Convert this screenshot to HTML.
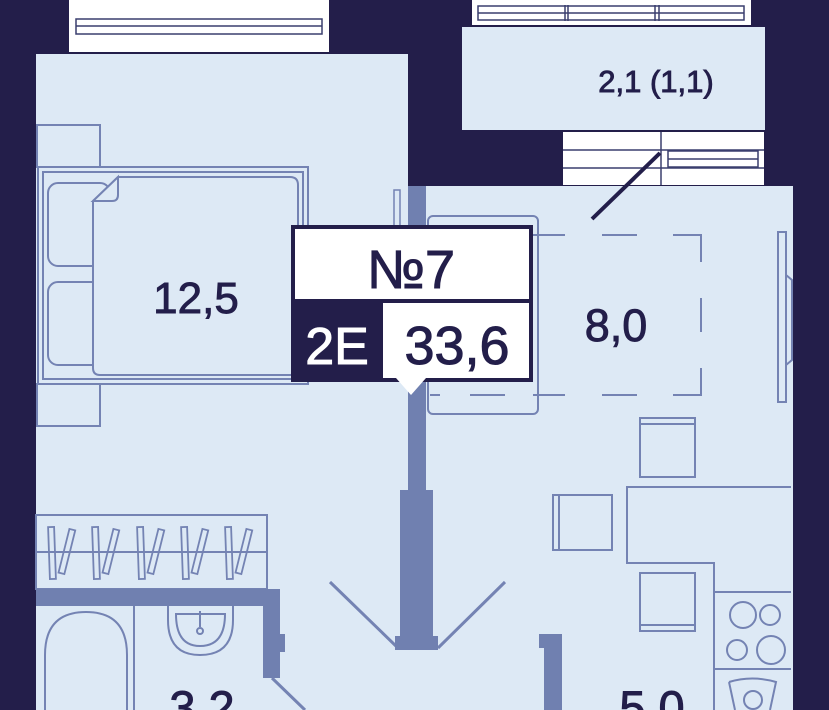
<!DOCTYPE html>
<html><head><meta charset="utf-8"><style>
html,body{margin:0;padding:0;background:#231e4a;}
svg{display:block}
text{font-family:"Liberation Sans",sans-serif;}
</style></head><body>
<svg width="829" height="710" viewBox="0 0 829 710" xmlns="http://www.w3.org/2000/svg">
<rect width="829" height="710" fill="#231e4a"/>
<rect x="36" y="54" width="372" height="656" fill="#dde9f5"/>
<rect x="400" y="186" width="393" height="524" fill="#dde9f5"/>
<rect x="462" y="27" width="303" height="103" fill="#dde9f5"/>
<g fill="#fff" stroke="#3a3f6e" stroke-width="1.5">
<rect x="69" y="0" width="260" height="52" stroke="none"/>
<rect x="76" y="19" width="246" height="15" fill="none"/>
<line x1="76" y1="26" x2="322" y2="26"/>
<rect x="472" y="0" width="279" height="25" stroke="none"/>
<rect x="478" y="6" width="266" height="14" fill="none"/>
<line x1="478" y1="13" x2="744" y2="13"/>
<line x1="565" y1="5" x2="565" y2="21"/><line x1="568" y1="5" x2="568" y2="21"/>
<line x1="655" y1="5" x2="655" y2="21"/><line x1="659" y1="5" x2="659" y2="21"/>
<rect x="563" y="132" width="201" height="53" stroke="none"/>
<line x1="563" y1="150" x2="764" y2="150"/><line x1="563" y1="168" x2="764" y2="168"/>
<line x1="661" y1="132" x2="661" y2="185"/>
<rect x="668" y="151" width="90" height="16" fill="none"/>
<line x1="668" y1="159" x2="758" y2="159"/>
</g>
<line x1="592" y1="219" x2="660" y2="153" stroke="#231e4a" stroke-width="4"/>
<g fill="none" stroke="#7483b3" stroke-width="2">
<rect x="37" y="125" width="63" height="42"/>
<rect x="37" y="384" width="63" height="42"/>
<rect x="38" y="167" width="270" height="217"/>
<rect x="43" y="172" width="260" height="207"/>
<rect x="48" y="183" width="62" height="83" rx="10"/>
<rect x="48" y="282" width="62" height="83" rx="10"/>
<path d="M93 201 L93 368 Q93 375 100 375 L290 375 Q298 375 298 368 L298 185 Q298 177 290 177 L118 177 Z" fill="#dde9f5"/>
<path d="M93 201 L118 177 L118 195 Q118 201 112 201 Z" fill="#dde9f5"/>
<rect x="428" y="216" width="110" height="198" rx="5"/>
<path d="M533 235H565 M602 235H637 M673 235H701V262 M701 298V332 M701 368V395H673 M637 395H602 M565 395H533 M505 395H470 M440 395H430 M505 235H470"/>
<rect x="778" y="232" width="8" height="170"/>
<path d="M786 275 L792 280 V360 L786 365"/>
<rect x="640" y="418" width="55" height="59"/><line x1="640" y1="424" x2="695" y2="424"/>
<rect x="553" y="495" width="59" height="55"/><line x1="559" y1="495" x2="559" y2="550"/>
<rect x="640" y="573" width="55" height="58"/><line x1="640" y1="625" x2="695" y2="625"/>
<path d="M791 487 H627 V563 H714 V710"/>
<line x1="714" y1="592" x2="791" y2="592"/><line x1="714" y1="669" x2="791" y2="669"/>
<circle cx="743" cy="615" r="13"/><circle cx="770" cy="615" r="10"/>
<circle cx="737" cy="650" r="10"/><circle cx="771" cy="650" r="14"/>
<path d="M729 682 Q752 675 776 682 L770 710 M729 682 L735 710"/>
<circle cx="753" cy="700" r="9"/>
<rect x="36" y="515" width="231" height="74"/>
<line x1="36" y1="552" x2="267" y2="552"/>
<g stroke-width="1.8">
<rect x="49" y="527" width="6" height="52" transform="rotate(-2 52 553)"/>
<rect x="64" y="529" width="6" height="45" transform="rotate(14 67 551)"/>
<rect x="93" y="527" width="6" height="52" transform="rotate(-2 96 553)"/>
<rect x="108" y="529" width="6" height="45" transform="rotate(14 111 551)"/>
<rect x="138" y="527" width="6" height="52" transform="rotate(-2 141 553)"/>
<rect x="153" y="529" width="6" height="45" transform="rotate(14 156 551)"/>
<rect x="182" y="527" width="6" height="52" transform="rotate(-2 185 553)"/>
<rect x="197" y="529" width="6" height="45" transform="rotate(14 200 551)"/>
<rect x="226" y="527" width="6" height="52" transform="rotate(-2 229 553)"/>
<rect x="241" y="529" width="6" height="45" transform="rotate(14 244 551)"/>
</g>
<line x1="134" y1="606" x2="134" y2="710"/>
<path d="M45 710 V655 Q45 612 86 612 Q127 612 127 655 V710"/>
<path d="M168 606 V620 Q168 655 200 655 Q233 655 233 620 V606"/>
<path d="M176 614 Q176 646 200 646 Q225 646 225 614 Z"/>
<circle cx="200" cy="631" r="3"/><line x1="200" y1="611" x2="200" y2="627"/><line x1="193" y1="614" x2="207" y2="614"/>
<line x1="272" y1="678" x2="305" y2="710" stroke-width="3"/>
<line x1="330" y1="582" x2="398" y2="648" stroke-width="3"/>
<line x1="505" y1="582" x2="438" y2="648" stroke-width="3"/>
</g>
<g fill="#7080b0">
<rect x="408" y="186" width="18" height="304"/>
<rect x="400" y="490" width="33" height="150"/>
<rect x="395" y="636" width="43" height="14"/>
<rect x="36" y="589" width="244" height="17"/>
<rect x="263" y="589" width="17" height="89"/>
<rect x="280" y="634" width="5" height="18"/>
<rect x="539" y="634" width="23" height="14"/>
<rect x="544" y="634" width="18" height="76"/>
</g>
<rect x="394" y="190" width="6" height="36" fill="none" stroke="#7483b3" stroke-width="1.5"/>
<g fill="#231e4a" stroke="#231e4a" stroke-width="0.9" text-anchor="middle">
<text x="196" y="313" font-size="44">12,5</text>
<text x="616" y="341" font-size="45">8,0</text>
<text x="656" y="92" font-size="31">2,1 (1,1)</text>
<text x="202" y="724" font-size="47">3,2</text>
<text x="652" y="724" font-size="47">5,0</text>
</g>
<rect x="291" y="225" width="242" height="157" fill="#231e4a"/>
<rect x="295" y="229" width="234" height="70" fill="#fff"/>
<path d="M383 303 H529 V378 H426 L411 395 L396 378 H383 Z" fill="#fff"/>
<text x="411" y="288" font-size="54" fill="#231e4a" stroke="#231e4a" stroke-width="1" text-anchor="middle">№7</text>
<text x="337" y="364" font-size="52" fill="#fff" stroke="#fff" stroke-width="1" text-anchor="middle">2E</text>
<text x="457" y="364" font-size="54" fill="#231e4a" stroke="#231e4a" stroke-width="1" text-anchor="middle">33,6</text>
</svg>
</body></html>
